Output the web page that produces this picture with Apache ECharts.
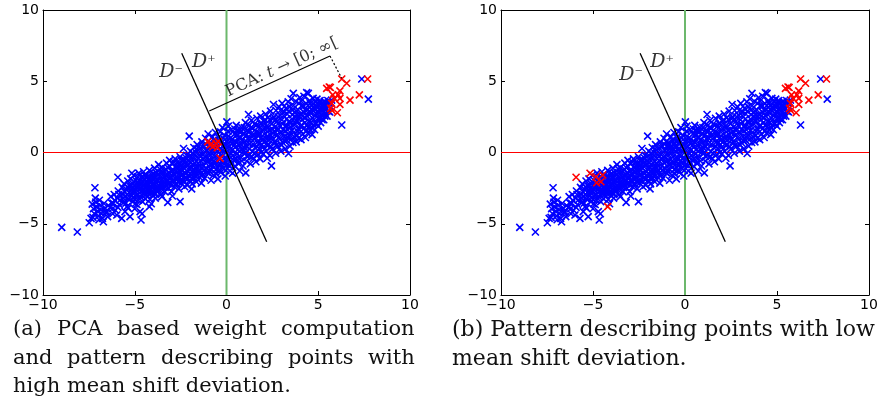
<!DOCTYPE html>
<html>
<head>
<meta charset="utf-8">
<script src="https://cdn.jsdelivr.net/npm/echarts@6/dist/echarts.min.js"></script>
<style>
  html, body { margin: 0; padding: 0; background: #fff; }
  #main { width: 884px; height: 404px; }
</style>
</head>
<body>
<div id="main"></div>
<script>
// blue points, shared by both panels (outline of the cloud)
var bluePoints = [
  [-8.98,-5.25],[-8.13,-5.58],[-7.48,-4.93],[-7.38,-4.62],[-7.17,-2.47],
  [-7.32,-3.62],[-7.25,-3.95],[-7.21,-4.28],[-7.12,-3.48],[-7.08,-3.82],[-7.02,-4.12],[-6.98,-4.45],[-6.93,-3.35],
  [-6.89,-3.7],[-6.85,-4.02],[-6.8,-4.3],[-6.76,-4.62],[-6.71,-4.86],[-6.68,-3.58],[-6.62,-3.9],[-6.58,-4.2],
  [-6.53,-4.15],[-6.48,-4.5],[-6.44,-3.72],[-7.28,-4.55],[-6.95,-4.72],[-7.15,-3.2],
  [-6.3,-3.1],[-6.25,-3.55],[-6.17,-3.57],[-6.12,-2.95],[-6.05,-4.05],[-5.98,-4.39],[-6.2,-4.3],[-5.95,-3.2],
  [-5.9,-2.7],[-5.85,-3.65],[-5.8,-3.33],[-6.35,-3.85],
  [-5.71,-4.62],[-5.68,-2.45],[-5.65,-2.95],[-5.6,-3.5],[-5.58,-2.2],[-5.53,-4.15],[-5.5,-3.05],[-5.45,-2.6],
  [-5.42,-3.8],[-5.38,-2.0],[-5.35,-3.25],[-5.3,-2.8],[-5.26,-4.5],[-5.28,-2.35],
  [-5.22,-1.85],[-5.18,-2.55],[-5.15,-3.0],[-5.12,-3.45],[-5.1,-2.2],[-5.05,-1.6],[-5.02,-2.75],[-4.98,-3.3],
  [-4.95,-1.95],[-4.92,-2.45],[-4.88,-3.65],[-4.85,-2.1],[-4.82,-2.95],[-4.78,-1.45],[-4.76,-2.6],[-5.0,-3.95],
  [-4.71,-4.15],[-4.66,-4.74],[-4.72,-2.3],[-4.7,-3.1],[-4.65,-1.75],[-4.62,-2.7],[-4.58,-3.45],[-4.55,-2.05],
  [-4.52,-1.35],[-4.48,-2.9],[-4.45,-2.4],[-4.42,-3.25],[-4.38,-1.6],[-4.35,-2.15],[-4.32,-2.65],[-4.28,-3.05],
  [-4.26,-1.9],[-4.6,-4.3],
  [-4.22,-2.45],[-4.2,-1.25],[-4.18,-3.3],[-4.15,-2.0],[-4.12,-2.8],[-4.08,-1.55],[-4.05,-2.25],[-4.02,-3.0],
  [-3.98,-1.8],[-3.95,-2.55],[-3.92,-1.1],[-3.88,-3.2],[-3.85,-2.1],[-3.82,-2.7],[-3.8,-1.45],[-3.77,-2.4],[-4.1,-3.6],
  [-3.72,-1.95],[-3.7,-0.85],[-3.66,-2.6],[-3.63,-1.4],[-3.6,-2.2],[-3.57,-2.95],[-3.54,-1.7],[-3.5,-1.05],
  [-3.47,-2.45],[-3.44,-2.0],[-3.4,-1.3],[-3.37,-2.75],[-3.33,-1.6],[-3.3,-2.25],[-3.27,-0.75],[-3.2,-3.5],[-3.52,-3.1],
  [-3.22,-1.9],[-3.2,-1.05],[-3.17,-2.5],[-3.14,-1.45],[-3.1,-0.55],[-3.07,-2.15],[-3.03,-1.7],[-3.0,-2.75],
  [-2.97,-1.25],[-2.94,-0.8],[-2.9,-2.0],[-2.87,-1.55],[-2.84,-2.4],[-2.8,-0.45],[-2.78,-1.05],[-2.76,-1.85],[-2.95,-3.05],
  [-2.72,-2.2],[-2.7,-1.4],[-2.66,-0.65],[-2.63,-1.8],[-2.6,-2.55],[-2.57,-1.05],[-2.53,-0.3],[-2.5,-1.6],
  [-2.47,-2.15],[-2.44,-0.85],[-2.4,-1.25],[-2.37,-1.95],[-2.34,0.28],[-2.3,-0.5],[-2.28,-2.4],[-2.26,-1.45],[-2.53,-3.45],
  [-2.22,-1.0],[-2.2,-1.75],[-2.17,-0.2],[-2.14,-2.3],[-2.1,-1.35],[-2.07,-0.6],[-2.03,1.15],[-2.0,-1.95],
  [-1.97,0.1],[-1.94,-0.95],[-1.9,-1.55],[-1.87,-2.2],[-1.84,-0.35],[-1.8,-1.2],[-1.78,0.35],[-1.76,-1.8],[-1.9,-2.55],
  [-1.72,-0.75],[-1.7,-1.45],[-1.67,0.0],[-1.64,-2.05],[-1.6,0.55],[-1.57,-1.05],[-1.53,-0.4],[-1.5,-1.7],
  [-1.47,0.25],[-1.44,-1.25],[-1.4,-0.6],[-1.37,-2.15],[-1.34,0.75],[-1.3,-0.15],[-1.28,-1.55],[-1.26,-0.95],
  [-1.22,0.45],[-1.2,-1.8],[-1.17,-0.3],[-1.14,1.0],[-1.1,-1.1],[-1.07,0.15],[-1.03,-0.65],[-1.0,1.3],
  [-0.97,-1.45],[-0.94,-0.1],[-0.9,0.7],[-0.87,-0.85],[-0.84,-1.95],[-0.8,0.3],[-0.78,-0.45],[-0.76,1.1],[-0.95,-1.25],
  [-0.72,-1.6],[-0.7,0.05],[-0.67,0.85],[-0.64,-0.75],[-0.6,1.4],[-0.57,-1.2],[-0.53,0.45],[-0.5,-0.35],
  [-0.47,-1.85],[-0.44,1.05],[-0.4,-0.9],[-0.37,0.2],[-0.35,1.45],[-0.32,-1.4],[-0.3,0.65],[-0.27,-0.15],[-0.25,-0.6],
  [-0.22,1.75],[-0.2,-1.1],[-0.17,0.4],[-0.14,-0.45],[-0.1,1.2],[-0.07,-1.65],[-0.03,0.0],[0.0,0.8],
  [0.02,2.15],[0.05,-0.85],[0.08,1.5],[0.1,1.85],[0.12,-0.2],[0.15,0.45],[0.18,-1.3],[0.2,1.0],[0.23,-0.6],
  [0.27,1.6],[0.3,0.15],[0.33,-1.45],[0.36,0.7],[0.4,-0.55],[0.43,1.3],[0.47,0.35],[0.5,-1.0],
  [0.53,1.9],[0.56,-0.1],[0.6,0.95],[0.63,-0.75],[0.66,1.5],[0.7,0.5],[0.72,-1.3],[0.74,0.1],[0.58,1.25],
  [0.77,1.05],[0.8,-0.35],[0.83,1.75],[0.86,0.25],[0.9,-0.95],[0.93,1.35],[0.96,0.7],[1.0,-0.05],
  [1.05,-1.43],[1.03,2.1],[1.07,0.45],[1.1,-0.6],[1.13,1.55],[1.16,0.95],[1.2,2.67],[1.22,-0.2],[1.24,1.9],
  [1.27,0.6],[1.3,-0.8],[1.33,1.3],[1.36,2.25],[1.4,0.05],[1.43,1.7],[1.47,-0.4],[1.5,0.95],
  [1.53,2.0],[1.56,0.35],[1.6,-0.65],[1.63,1.45],[1.66,2.4],[1.7,0.75],[1.72,-0.15],[1.74,1.15],
  [1.77,1.85],[1.8,0.25],[1.83,-0.45],[1.86,2.55],[1.9,1.05],[1.93,0.55],[1.96,1.6],[2.0,-0.1],
  [2.03,2.2],[2.06,1.3],[2.1,0.8],[2.13,2.7],[2.16,0.1],[2.2,1.85],[2.22,-0.4],[2.24,1.15],
  [2.27,2.45],[2.3,0.55],[2.33,1.55],[2.36,-0.2],[2.4,2.9],[2.43,1.0],[2.45,-0.94],[2.47,2.0],
  [2.5,0.25],[2.53,1.35],[2.56,3.37],[2.58,2.5],[2.62,0.75],[2.65,1.8],[2.68,-0.05],[2.7,2.95],[2.73,1.2],
  [2.77,2.2],[2.8,0.45],[2.83,1.65],[2.86,3.2],[2.9,0.95],[2.93,2.6],[2.96,0.1],[3.0,1.4],
  [3.03,3.45],[3.06,2.0],[3.1,0.65],[3.13,2.85],[3.16,1.1],[3.2,0.25],[3.22,1.85],[3.24,3.1],
  [3.27,2.35],[3.3,0.85],[3.33,1.6],[3.36,3.55],[3.38,-0.07],[3.4,2.9],[3.43,1.25],[3.46,0.45],
  [3.5,2.1],[3.52,3.77],[3.55,1.55],[3.58,2.65],[3.62,0.7],[3.65,3.3],[3.68,1.95],[3.7,1.1],[3.73,2.5],[3.64,4.15],
  [3.77,3.6],[3.8,0.75],[3.83,2.2],[3.86,1.5],[3.9,3.0],[3.93,1.0],[3.96,2.55],[4.0,3.85],
  [4.03,1.85],[4.06,0.9],[4.1,3.3],[4.13,2.3],[4.16,1.3],[4.2,2.85],[4.22,3.95],[4.24,1.7],
  [4.27,2.45],[4.3,1.05],[4.33,3.45],[4.36,1.9],[4.37,4.2],[4.4,3.0],[4.43,1.35],[4.46,4.15],[4.5,2.2],
  [4.53,3.65],[4.56,1.6],[4.6,2.75],[4.63,3.3],[4.66,1.25],[4.7,2.4],[4.72,3.8],[4.74,1.95],
  [4.77,3.1],[4.8,1.6],[4.83,2.6],[4.86,3.55],[4.9,2.05],[4.93,3.75],[4.96,2.85],[5.0,1.85],
  [5.03,3.3],[5.06,2.4],[5.1,3.65],[5.13,2.1],[5.16,2.95],[5.2,3.45],[5.23,2.6],
  [5.27,3.2],[5.3,2.3],[5.33,3.6],[5.37,2.75],[5.4,3.4],[5.44,3.0],[5.48,2.55],[5.52,3.65],
  [5.57,3.25],[5.62,2.85],[5.68,3.5],[5.73,3.68],
  [6.28,1.93],[7.37,5.16],[7.73,3.75]
];

// extra blue points in the dense core of the cloud
var blueCore = [
  [-6.1,-3.35],[-5.92,-3.85],[-6.22,-3.95],[-5.87,-2.95],
  [-5.62,-3.2],[-5.55,-2.75],[-5.48,-3.55],[-5.4,-2.4],[-5.33,-3.05],[-5.36,-3.9],
  [-5.2,-2.35],[-5.16,-2.8],[-5.08,-3.2],[-5.04,-2.05],[-4.96,-2.6],[-4.9,-3.0],[-4.86,-2.3],[-4.8,-3.35],[-4.97,-3.6],
  [-4.74,-2.0],[-4.68,-2.5],[-4.64,-2.95],[-4.56,-2.3],[-4.5,-2.65],[-4.46,-1.85],[-4.4,-2.95],[-4.34,-2.4],[-4.3,-1.7],[-4.27,-2.85],
  [-4.24,-2.2],[-4.19,-2.65],[-4.14,-1.75],[-4.1,-2.4],[-4.04,-2.0],[-4.0,-2.8],[-3.96,-1.5],[-3.9,-2.3],[-3.86,-2.9],[-3.8,-1.9],[-3.76,-2.6],
  [-3.74,-1.6],[-3.68,-2.35],[-3.64,-1.15],[-3.58,-1.95],[-3.55,-2.55],[-3.48,-1.45],[-3.45,-2.2],[-3.38,-1.75],[-3.34,-2.45],[-3.28,-1.2],[-3.26,-2.0],
  [-3.23,-1.55],[-3.18,-2.2],[-3.12,-0.95],[-3.08,-1.85],[-3.02,-1.3],[-2.98,-2.3],[-2.92,-1.65],[-2.88,-0.65],[-2.85,-2.0],[-2.79,-1.35],[-2.77,-2.2],
  [-2.74,-1.7],[-2.68,-1.05],[-2.64,-2.05],[-2.6,-0.85],[-2.55,-1.3],[-2.48,-1.95],[-2.45,-0.55],[-2.42,-1.55],[-2.36,-1.05],[-2.32,-2.05],[-2.27,-0.75],
  [-2.24,-1.45],[-2.19,-0.4],[-2.15,-1.9],[-2.12,-0.85],[-2.05,-1.6],[-2.02,-0.25],[-1.98,-1.15],[-1.92,-0.7],[-1.88,-1.85],[-1.82,-0.05],[-1.79,-1.45],
  [-1.74,-0.35],[-1.69,-1.1],[-1.65,-1.7],[-1.62,0.25],[-1.55,-0.75],[-1.52,-1.35],[-1.46,-0.15],[-1.42,-0.95],[-1.36,-1.65],[-1.32,0.4],[-1.27,-0.5],
  [-1.24,-1.25],[-1.19,0.05],[-1.15,-0.7],[-1.12,0.6],[-1.05,-1.4],[-1.01,-0.35],[-0.98,0.45],[-0.92,-0.55],[-0.88,-1.15],[-0.85,0.05],[-0.79,-0.85],
  [-0.74,0.35],[-0.69,-1.05],[-0.65,-0.3],[-0.62,0.6],[-0.55,-1.5],[-0.52,0.1],[-0.48,-0.65],[-0.42,0.85],[-0.38,-1.2],[-0.33,0.3],[-0.28,-0.85],
  [-0.23,0.15],[-0.18,1.0],[-0.12,-0.8],[-0.08,0.6],[-0.04,-1.25],[0.03,-0.45],[0.07,0.3],[0.11,1.15],[0.16,-0.9],[0.19,0.75],[0.24,-0.1],
  [0.28,-0.8],[0.32,0.95],[0.35,-0.2],[0.41,0.5],[0.45,1.65],[0.49,-0.45],[0.52,0.75],[0.57,1.55],[0.61,0.2],[0.65,-0.4],[0.71,1.0],
  [0.76,0.6],[0.79,1.45],[0.84,-0.6],[0.88,0.9],[0.92,0.05],[0.97,1.75],[1.02,0.3],[1.06,1.2],[1.11,-0.25],[1.15,0.7],[1.21,1.5],
  [1.26,0.25],[1.31,1.0],[1.35,1.75],[1.39,-0.3],[1.44,0.6],[1.48,1.3],[1.52,-0.05],[1.57,1.05],[1.62,1.9],[1.67,0.4],[1.71,1.4],
  [1.76,0.6],[1.81,1.35],[1.85,2.05],[1.89,0.0],[1.94,0.9],[1.98,1.95],[2.02,0.4],[2.07,1.65],[2.11,2.3],[2.15,1.0],[2.21,0.5],
  [2.26,1.75],[2.31,0.9],[2.35,2.3],[2.39,1.25],[2.44,0.4],[2.48,1.65],[2.52,2.35],[2.57,0.95],[2.61,1.5],[2.66,2.3],[2.71,0.5],
  [2.76,1.55],[2.81,2.5],[2.85,1.05],[2.89,1.9],[2.94,2.95],[2.98,0.55],[3.02,2.3],[3.07,1.6],[3.11,2.6],[3.15,0.85],[3.19,1.5],
  [3.26,1.9],[3.31,2.7],[3.35,1.05],[3.39,2.15],[3.44,3.2],[3.48,1.8],[3.53,0.95],[3.57,2.35],[3.61,3.0],[3.66,1.4],[3.71,2.8],
  [3.76,2.0],[3.81,2.9],[3.85,1.2],[3.89,2.4],[3.94,3.45],[3.98,1.6],[4.02,2.7],[4.07,3.6],[4.11,1.9],[4.15,2.55],[4.21,3.25],
  [4.26,2.1],[4.31,2.95],[4.35,1.5],[4.39,2.55],[4.44,3.3],[4.48,1.8],[4.52,2.9],[4.57,3.45],[4.61,2.1],[4.65,3.0],[4.71,1.7],
  [4.76,2.3],[4.81,3.3],[4.85,2.0],[4.89,2.75],[4.94,3.2],[4.98,2.4],[5.02,2.85],[5.07,3.5],[5.11,2.5],[5.15,3.15],[5.21,2.3],
  [5.26,2.95],[5.31,3.35],[5.36,2.55],[5.41,3.1],[5.47,3.45],[5.55,2.9],[5.6,3.45]
];

// red in both panels (upper right)
var upperPoints = [
  [6.28,5.16],[6.55,4.86],[5.46,4.5],[5.6,4.6],[5.66,4.56],[6.18,4.32],[6.09,4.04],[6.18,3.8],
  [5.79,4.04],[5.88,3.8],[6.73,3.68],[7.69,5.16],[7.24,4.04],[5.73,3.45],[5.68,3.1],[6.04,2.79],
  [6.18,3.38],[5.75,2.95]
];
// red in (a), blue in (b)
var centrePoints = [
  [-1.02,0.76],[-0.9,0.53],[-0.75,0.4],[-0.57,0.64],[-0.5,0.34],[-0.45,0.76],[-0.82,0.6],[-0.35,-0.41]
];
// blue in (a), red in (b)
var lowerPoints = [
  [-5.92,-1.74],[-5.16,-1.46],[-4.84,-1.7],[-4.47,-1.58],[-4.8,-2.12],[-4.57,-2.05],[-4.2,-3.8]
];

var hLine = [[-10, 0], [10, 0]];
var vLine = [[0, -10], [0, 10]];
var boundary = [[-2.44, 6.96], [2.19, -6.26]];
var pcaBracket = [[-0.94, 2.91], [5.64, 6.77]];
var pcaDots = [[5.64, 6.77], [6.28, 5.21]];

var captionA = [
  ['(a)', 'PCA', 'based', 'weight', 'computation'],
  ['and', 'pattern', 'describing', 'points', 'with'],
  ['high mean shift deviation.']
];
var captionB = ['(b) Pattern describing points with low', 'mean shift deviation.'];

var dom = document.getElementById('main');
var myChart = echarts.init(dom, null, { renderer: 'canvas' });

var crossMark = 'path://M0,0L10,10M10,0L0,10';
var sansFont = 'DejaVu Sans';
var serifFont = 'DejaVu Serif';
var capSize = 21;
var minusFmt = function (v) { return String(v).replace('-', '\u2212'); };

function makeAxes(i) {
  var base = {
    gridIndex: i, type: 'value', min: -10, max: 10, interval: 5,
    splitLine: { show: false },
    axisLine: { show: true, onZero: false, lineStyle: { color: '#000', width: 1 } },
    axisTick: { show: true, inside: true, length: 4, lineStyle: { color: '#000' } }
  };
  var lab = { show: true, color: '#000', fontFamily: sansFont, fontSize: 14, formatter: minusFmt };
  return {
    x: [
      Object.assign({}, base, { position: 'bottom', axisLabel: Object.assign({}, lab, { margin: 3 }) }),
      Object.assign({}, base, { position: 'top', axisLabel: { show: false } })
    ],
    y: [
      Object.assign({}, base, { position: 'left', axisLabel: Object.assign({}, lab, { margin: 4 }) }),
      Object.assign({}, base, { position: 'right', axisLabel: { show: false } })
    ]
  };
}

var xAxes = [], yAxes = [];
[0, 1].forEach(function (i) {
  var a = makeAxes(i);
  xAxes = xAxes.concat(a.x);
  yAxes = yAxes.concat(a.y);
});

function lineSeries(i, data, color, width, type, z) {
  return {
    type: 'line', xAxisIndex: i * 2, yAxisIndex: i * 2, data: data,
    showSymbol: false, silent: true, z: z,
    lineStyle: { color: color, width: width, type: type || 'solid' }
  };
}
function crossSeries(i, data, color, z) {
  return {
    type: 'scatter', xAxisIndex: i * 2, yAxisIndex: i * 2, data: data,
    symbol: crossMark, symbolSize: 7, z: z, silent: true,
    itemStyle: { color: 'rgba(0,0,0,0)', borderColor: color, borderWidth: 1.6, opacity: 1 }
  };
}
function textSeries(i, items) {
  return {
    type: 'scatter', xAxisIndex: i * 2, yAxisIndex: i * 2, symbolSize: 0, z: 10, silent: true,
    data: items.map(function (t) {
      return {
        value: t.pos,
        label: {
          show: true, position: 'inside', formatter: t.text, rotate: t.rotate || 0,
          color: '#000', fontFamily: serifFont, fontSize: 16,
          rich: {
            r: { fontFamily: serifFont, fontSize: 16, color: '#000' },
            i: { fontFamily: serifFont, fontSize: 16, fontStyle: 'italic', color: '#000' },
            d: { fontFamily: serifFont, fontSize: 19, fontStyle: 'italic', color: '#000' }
          }
        }
      };
    })
  };
}

var series = [
  // (a)
  lineSeries(0, vLine, '#6cb86c', 2, 'solid', 1),
  lineSeries(0, hLine, '#ff0000', 1.2, 'solid', 1),
  crossSeries(0, bluePoints.concat(blueCore, lowerPoints), '#0000ff', 2),
  crossSeries(0, upperPoints.concat(centrePoints), '#ff0000', 3),
  lineSeries(0, boundary, '#000', 1.3, 'solid', 4),
  lineSeries(0, pcaBracket, '#000', 1.2, 'solid', 4),
  lineSeries(0, pcaDots, '#000', 1.2, [2, 2], 4),
  textSeries(0, [
    { pos: [-3.02, 5.61], text: '{d|D}\u207B' },
    { pos: [-1.23, 6.35], text: '{d|D}\u207A' },
    { pos: [3.02, 5.97], text: '{r|PCA: }{i|t}{r| \u2192 [0; \u221E[}', rotate: 24.5 }
  ]),
  // (b)
  lineSeries(1, vLine, '#6cb86c', 2, 'solid', 1),
  lineSeries(1, hLine, '#ff0000', 1.2, 'solid', 1),
  crossSeries(1, bluePoints.concat(blueCore, centrePoints), '#0000ff', 2),
  crossSeries(1, upperPoints.concat(lowerPoints), '#ff0000', 3),
  lineSeries(1, boundary, '#000', 1.3, 'solid', 4),
  textSeries(1, [
    { pos: [-2.93, 5.44], text: '{d|D}\u207B' },
    { pos: [-1.25, 6.35], text: '{d|D}\u207A' }
  ])
];

// captions: (a) is justified between x=13 and x=415, (b) left aligned
var measure = document.createElement('canvas').getContext('2d');
measure.font = capSize + 'px "' + serifFont + '"';
var lineMid = [331, 360, 388];
var graphics = [];
captionA.forEach(function (words, r) {
  var x0 = 13, x1 = 415;
  var widths = words.map(function (w) { return measure.measureText(w).width; });
  var total = widths.reduce(function (s, w) { return s + w; }, 0);
  var gap = words.length > 1 ? (x1 - x0 - total) / (words.length - 1) : 0;
  var x = x0;
  words.forEach(function (w, k) {
    graphics.push({
      type: 'text', left: Math.round(x), top: lineMid[r] - 12,
      style: { text: w, fontFamily: serifFont, fontSize: capSize, fill: '#111' }
    });
    x += widths[k] + gap;
  });
});
captionB.forEach(function (t, r) {
  graphics.push({
    type: 'text', left: 452, top: lineMid[r] - 12,
    style: { text: t, fontFamily: serifFont, fontSize: capSize + 1, fill: '#111' }
  });
});

var option = {
  animation: false,
  backgroundColor: '#fff',
  grid: [
    { left: 43, top: 10, width: 367, height: 285 },
    { left: 501, top: 10, width: 368, height: 285 }
  ],
  xAxis: xAxes,
  yAxis: yAxes,
  series: series,
  graphic: graphics
};

if (option && typeof option === 'object') {
  myChart.setOption(option);
}
window.addEventListener('resize', myChart.resize);
</script>
</body>
</html>
